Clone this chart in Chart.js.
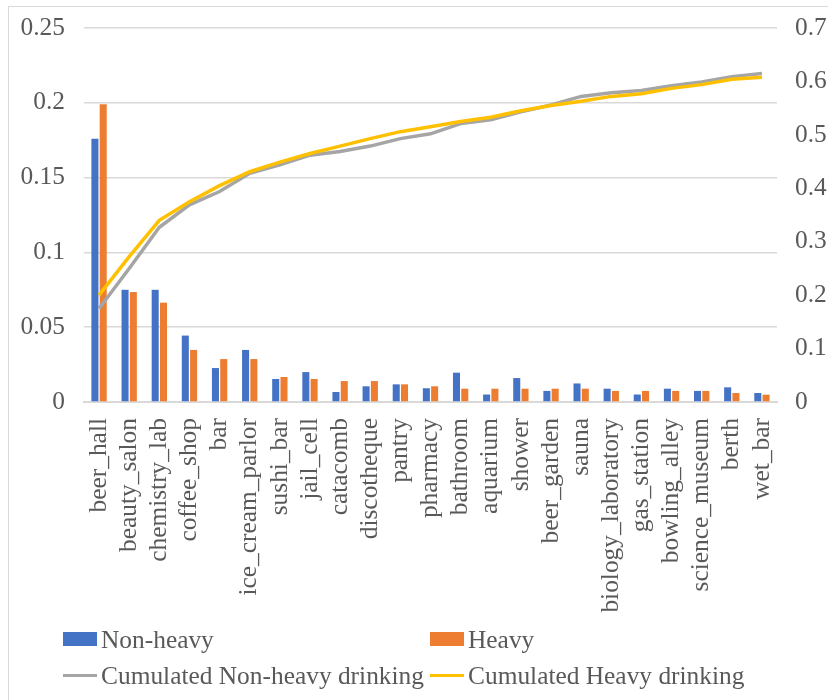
<!DOCTYPE html>
<html>
<head>
<meta charset="utf-8">
<script src="https://cdn.jsdelivr.net/npm/chart.js@4/dist/chart.umd.min.js"></script>
<style>
  html, body { margin: 0; padding: 0; background: #ffffff; }
  #wrap { position: relative; width: 828px; height: 700px; overflow: hidden; }
  #frame { position: absolute; left: 8px; top: 6px; width: 900px; height: 800px;
           border-left: 1px solid #d9d9d9; border-top: 1px solid #d9d9d9; }
  canvas { position: absolute; left: 0; top: 0; }
  .row { position: absolute; left: 0; height: 30px; width: 828px; }
  .item { position: absolute; top: 0; height: 30px; display: flex; align-items: center;
          font-family: "Liberation Serif", "Times New Roman", serif; font-size: 25.4px; color: #595959; }
  .box { width: 34px; height: 14px; margin-right: 4px; }
  .ln { width: 34px; height: 3px; margin-right: 4px; }
</style>
</head>
<body>
<div id="wrap">
  <div id="frame"></div>
  <canvas id="c" width="828" height="700"></canvas>
  <div class="row" style="top:624px">
    <div class="item" style="left:63px"><span class="box" style="background:#4472c4"></span><span id="lg0"></span></div>
    <div class="item" style="left:430px"><span class="box" style="background:#ed7d31"></span><span id="lg1"></span></div>
  </div>
  <div class="row" style="top:660px">
    <div class="item" style="left:63px"><span class="ln" style="background:#a5a5a5"></span><span id="lg2"></span></div>
    <div class="item" style="left:430px"><span class="ln" style="background:#ffc000"></span><span id="lg3"></span></div>
  </div>
</div>
<script>
// Venue categories along the x axis
const categories = ['beer_hall', 'beauty_salon', 'chemistry_lab', 'coffee_shop', 'bar',
  'ice_cream_parlor', 'sushi_bar', 'jail_cell', 'catacomb', 'discotheque', 'pantry',
  'pharmacy', 'bathroom', 'aquarium', 'shower', 'beer_garden', 'sauna',
  'biology_laboratory', 'gas_station', 'bowling_alley', 'science_museum', 'berth', 'wet_bar'];

// Share per venue (left axis)
const nonHeavy = [0.176, 0.075, 0.075, 0.0444, 0.0227, 0.0348, 0.0154, 0.020, 0.0067, 0.0105, 0.0118,
  0.0092, 0.0196, 0.0050, 0.0160, 0.0074, 0.0124, 0.0089, 0.0050, 0.0089, 0.0074, 0.0098, 0.0060];
const heavy = [0.199, 0.0735, 0.0664, 0.0348, 0.0287, 0.0287, 0.0167, 0.0154, 0.0140, 0.0140, 0.0118,
  0.0105, 0.0089, 0.0089, 0.0089, 0.0089, 0.0089, 0.0074, 0.0074, 0.0074, 0.0074, 0.0060, 0.0049];

// Cumulated shares (right axis)
const cumNonHeavy = [0.175, 0.250, 0.327, 0.369, 0.394, 0.428, 0.444, 0.462, 0.469, 0.479, 0.493,
  0.502, 0.521, 0.528, 0.543, 0.556, 0.572, 0.579, 0.583, 0.592, 0.599, 0.609, 0.615];
const cumHeavy = [0.200, 0.272, 0.340, 0.375, 0.405, 0.431, 0.449, 0.465, 0.479, 0.493, 0.506,
  0.515, 0.525, 0.533, 0.545, 0.555, 0.563, 0.572, 0.577, 0.587, 0.594, 0.604, 0.608];

// Axis tick labels
const leftTicks = ['0', '0.05', '0.1', '0.15', '0.2', '0.25'];
const rightTicks = ['0', '0.1', '0.2', '0.3', '0.4', '0.5', '0.6', '0.7'];

// Series names
const seriesNames = ['Non-heavy', 'Heavy', 'Cumulated Non-heavy drinking', 'Cumulated Heavy drinking'];
seriesNames.forEach((n, i) => { document.getElementById('lg' + i).textContent = n; });

Chart.defaults.font.family = '"Liberation Serif", "Times New Roman", serif';
Chart.defaults.font.size = 25.4;
Chart.defaults.color = '#595959';

// Fixed axis sizes so the plot area stays put regardless of label overflow
function fixVertical(width) {
  return (s) => { s.width = width; s.paddingTop = 0; s.paddingBottom = 0; };
}

new Chart(document.getElementById('c'), {
  data: {
    labels: categories,
    datasets: [
      { type: 'bar', label: seriesNames[0], data: nonHeavy, backgroundColor: '#4472c4',
        yAxisID: 'y', order: 2, barPercentage: 0.85, categoryPercentage: 0.55 },
      { type: 'bar', label: seriesNames[1], data: heavy, backgroundColor: '#ed7d31',
        yAxisID: 'y', order: 2, barPercentage: 0.85, categoryPercentage: 0.55 },
      { type: 'line', label: seriesNames[2], data: cumNonHeavy, borderColor: '#a5a5a5',
        borderWidth: 3.5, pointRadius: 0, tension: 0, yAxisID: 'y1', order: 1 },
      { type: 'line', label: seriesNames[3], data: cumHeavy, borderColor: '#ffc000',
        borderWidth: 3.5, pointRadius: 0, tension: 0, yAxisID: 'y1', order: 0 }
    ]
  },
  options: {
    responsive: false,
    animation: false,
    layout: { padding: { top: 28, left: 0, right: 0, bottom: 80 } },
    plugins: { legend: { display: false }, tooltip: { enabled: false } },
    scales: {
      x: {
        offset: true,
        grid: { display: false, drawTicks: false },
        border: { display: true, color: '#d9d9d9', width: 2 },
        ticks: { minRotation: 90, maxRotation: 90, padding: 16, autoSkip: false },
        afterFit: (s) => { s.height = 218; s.paddingLeft = 0; s.paddingRight = 0; }
      },
      y: {
        position: 'left',
        min: 0, max: 0.25,
        grid: { color: '#d9d9d9', lineWidth: 1.5, drawTicks: false },
        border: { display: false },
        ticks: { stepSize: 0.05, padding: 19, callback: (v, i) => leftTicks[i] },
        afterFit: fixVertical(84)
      },
      y1: {
        position: 'right',
        min: 0, max: 0.7,
        grid: { display: false, drawTicks: false },
        border: { display: false },
        ticks: { stepSize: 0.1, padding: 18, callback: (v, i) => rightTicks[i] },
        afterFit: fixVertical(51)
      }
    }
  }
});
</script>
</body>
</html>
